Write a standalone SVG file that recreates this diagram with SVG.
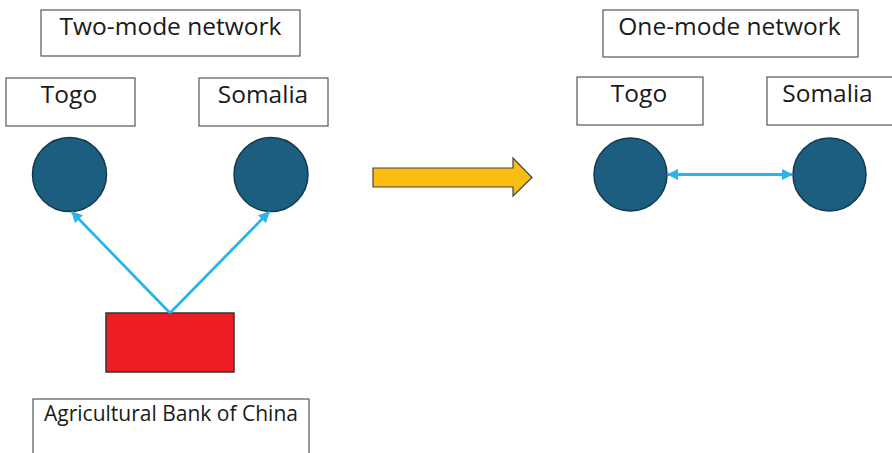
<svg xmlns="http://www.w3.org/2000/svg" width="892" height="453" viewBox="0 0 892 453">
<defs>
<style>
.box{fill:#fff;stroke:#555;stroke-width:1.2}
.lbl{font-family:"Open Sans","Liberation Sans",Arial,sans-serif;fill:#1a1a1a;font-size:24.5px;text-anchor:middle}
.node{fill:#1b5e80;stroke:#15394d;stroke-width:1.5}
.edge{stroke:#2bb4ea;stroke-width:2.8;fill:none}
</style>
<marker id="ah" viewBox="0 0 10 10" refX="9" refY="5" markerWidth="4" markerHeight="4" orient="auto-start-reverse" markerUnits="strokeWidth">
<path d="M0,0 L10,5 L0,10 Z" fill="#2bb4ea"/>
</marker>
</defs>
<rect width="892" height="453" fill="#fff"/>
<g id="title-two">
<rect class="box" x="41" y="10" width="259" height="46"/>
<text class="lbl" x="170.5" y="35">Two-mode network</text>
</g>
<g id="label-togo-left">
<rect class="box" x="6" y="78" width="129" height="48"/>
<text class="lbl" x="69" y="103">Togo</text>
</g>
<g id="label-somalia-left">
<rect class="box" x="199" y="78" width="129" height="48"/>
<text class="lbl" x="263" y="103">Somalia</text>
</g>
<g id="node-togo-left"><circle class="node" cx="69.5" cy="174.5" r="37"/></g>
<g id="node-somalia-left"><circle class="node" cx="271" cy="174.5" r="37"/></g>
<g id="node-bank"><rect x="106" y="313" width="128" height="59" fill="#ee1d24" stroke="#333" stroke-width="1.5"/></g>
<g id="label-bank">
<rect class="box" x="33" y="399" width="276" height="60"/>
<text class="lbl" x="171" y="421" style="font-size:21px">Agricultural Bank of China</text>
</g>
<g id="transform-arrow">
<path d="M373,168 H513 V158 L532,177.5 L513,196 V187 H373 Z" fill="#fbbc14" stroke="#444" stroke-width="1.2"/>
</g>
<g id="title-one">
<rect class="box" x="603" y="10" width="255" height="47"/>
<text class="lbl" x="729.5" y="35">One-mode network</text>
</g>
<g id="label-togo-right">
<rect class="box" x="577" y="77" width="126" height="48"/>
<text class="lbl" x="639" y="102">Togo</text>
</g>
<g id="label-somalia-right">
<rect class="box" x="767" y="77" width="130" height="48"/>
<text class="lbl" x="827.5" y="102">Somalia</text>
</g>
<g id="node-togo-right"><circle class="node" cx="630.5" cy="174.5" r="36.5"/></g>
<g id="node-somalia-right"><circle class="node" cx="829.5" cy="174.5" r="36.5"/></g>
<g id="connectors">
<line class="edge" x1="170" y1="313" x2="72" y2="212" marker-end="url(#ah)"/>
<line class="edge" x1="170" y1="313" x2="269" y2="212" marker-end="url(#ah)"/>
<line class="edge" x1="668" y1="174.5" x2="792" y2="174.5" marker-start="url(#ah)" marker-end="url(#ah)"/>
</g>
</svg>
